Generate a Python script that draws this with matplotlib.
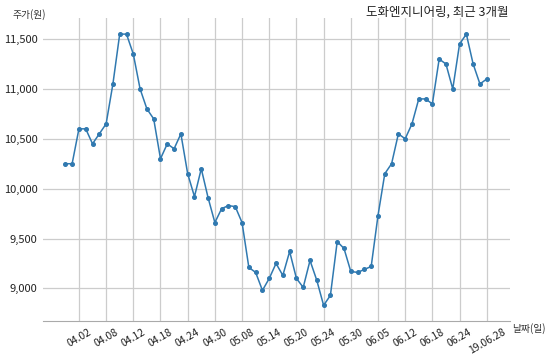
import matplotlib
matplotlib.use('Agg')
import matplotlib.pyplot as plt
import numpy as np

plt.rcParams['font.family'] = ['Noto Sans CJK KR', 'DejaVu Sans']

# 도화엔지니어링 종가, 최근 3개월 (63 거래일)
prices = [10250, 10250, 10600, 10600, 10450, 10550, 10650, 11050, 11550, 11550,
          11350, 11000, 10800, 10700, 10300, 10450, 10400, 10550, 10150, 9920,
          10200, 9910, 9660, 9800, 9830, 9820, 9660, 9210, 9160, 8980,
          9100, 9250, 9130, 9370, 9100, 9010, 9280, 9080, 8830, 8930,
          9470, 9400, 9170, 9160, 9190, 9220, 9730, 10150, 10250, 10550,
          10500, 10650, 10900, 10900, 10850, 11300, 11250, 11000, 11450, 11550,
          11250, 11050, 11100]

tick_pos = [2, 6, 10, 14, 18, 22, 26, 30, 34, 38, 42, 46, 50, 54, 58, 62]
tick_labels = ['04.02', '04.08', '04.12', '04.18', '04.24', '04.30', '05.08', '05.14',
               '05.20', '05.24', '05.30', '06.05', '06.12', '06.18', '06.24', '19.06.28']
y_ticks = [9000, 9500, 10000, 10500, 11000, 11500]

fig = plt.figure(figsize=(5.5, 3.56), dpi=100)
ax = fig.add_axes([0.078, 0.0975, 0.849, 0.8515])

x = np.arange(len(prices))
ax.plot(x, prices, color='#3079b0', lw=1.1, marker='o', ms=2.6)

ax.set_xlim(-3.3, 65.4)
ax.set_ylim(8670, 11710)
ax.set_xticks(tick_pos)
ax.set_xticklabels(tick_labels, rotation=30, fontsize=7.5)
ax.set_yticks(y_ticks)
ax.set_yticklabels(['{:,}'.format(v) for v in y_ticks], fontsize=8)
ax.tick_params(axis='both', length=0, colors='#222222')
ax.tick_params(axis='y', pad=4)
ax.tick_params(axis='x', pad=4)

ax.grid(True, color='#cccccc', lw=0.9)
ax.set_axisbelow(True)
for s in ['top', 'right', 'left']:
    ax.spines[s].set_visible(False)
ax.spines['bottom'].set_color('#aaaaaa')

fig.text(0.924, 0.965, '도화엔지니어링, 최근 3개월', ha='right', va='center', fontsize=9, color='#222222')
fig.text(0.022, 0.96, '주가(원)', ha='left', va='center', fontsize=7, color='#333333')
fig.text(0.931, 0.076, '날짜(일)', ha='left', va='center', fontsize=7, color='#333333')

fig.savefig('out.png', dpi=100)
